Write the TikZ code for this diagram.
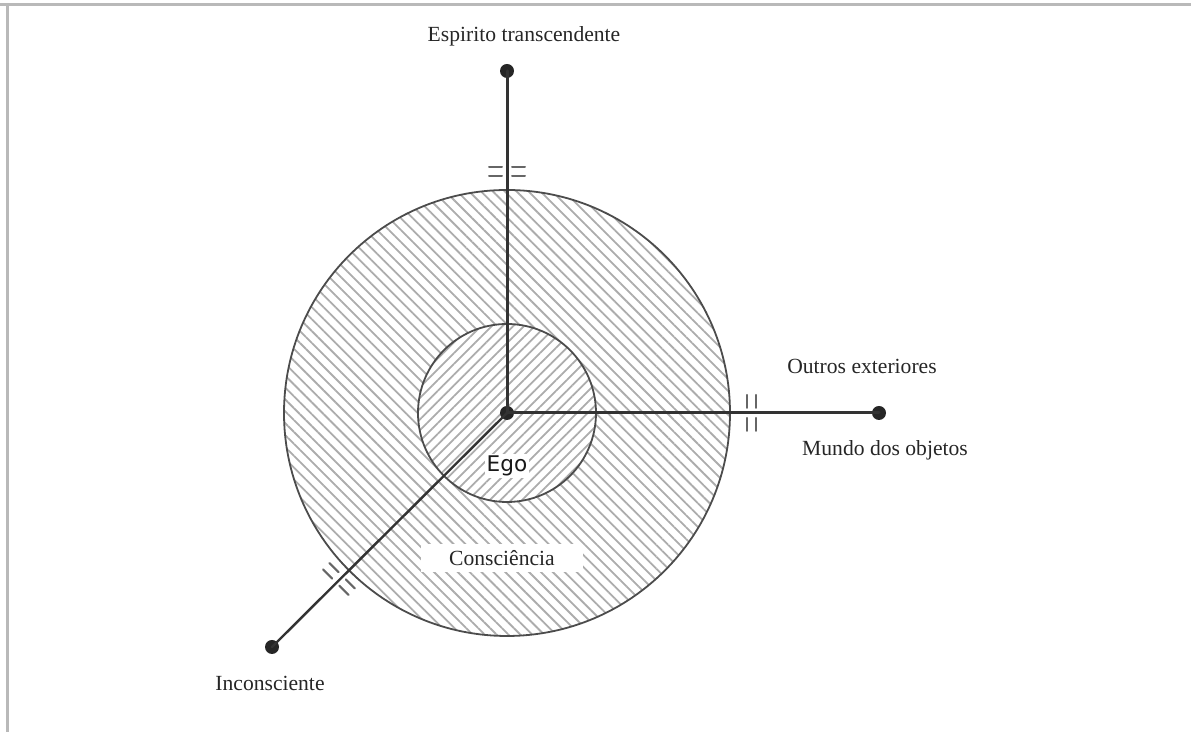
\documentclass[tikz,border=0pt]{standalone}
\usepackage{fontspec}
\setmainfont{Liberation Serif}
\newfontfamily\egofont{DejaVu Sans}
\usetikzlibrary{patterns.meta}
\begin{document}
\begin{tikzpicture}[x=0.5pt,y=0.5pt,line join=round,line cap=round,
	axis/.style={draw=black!80,line width=1.5pt},
	dot/.style={circle,fill=black!85,minimum size=7pt,inner sep=0pt},
	ring/.style={draw=black!70,line width=0.9pt},
	brk/.style={draw=black!60,line width=1pt},
	lbl/.style={font=\fontsize{10.8}{13}\selectfont,text=black!85}]
	\useasboundingbox (0,0) rectangle (1191,732);
	\draw[gray!55,line width=1.5pt] (0,727)--(1191,727) (7,727)--(7,0);
	% circles
	\fill[even odd rule,pattern={Lines[angle=-45,distance=4.2pt,line width=0.9pt]},pattern color=gray!65]
	(507,319) circle (223) (507,319) circle (89);
	\fill[pattern={Lines[angle=45,distance=3.8pt,line width=0.9pt]},pattern color=gray!65]
	(507,319) circle (89);
	\draw[ring] (507,319) circle (223) (507,319) circle (89);
	% points
	\node[dot] (cen) at (507,319) {};
	\node[dot] (top) at (507,661) {};
	\node[dot] (rgt) at (879,319) {};
	\node[dot] (llf) at (272,85) {};
	\draw[axis] (cen.center)--(top.center);
	\draw[axis] (cen.center)--(rgt.center);
	\draw[axis,line width=1.2pt] (cen.center)--(llf.center);
	% break marks
	\foreach \bx/\by/\a in {507/560/90,751/319/0,339/153/225}{
		\begin{scope}[shift={(\bx,\by)},rotate=\a]
		\foreach \s in {-4.5,4.5}{
			\draw[brk] (\s,-18)--(\s,-5);
			\draw[brk] (\s,5)--(\s,18);
		}
		\end{scope}
	}
	% labels
	\node[lbl] (espirito) at (524,696) {Espirito transcendente};
	\node[lbl] (outros) at (862,366) {Outros exteriores};
	\node[lbl] (mundo) at (885,282) {Mundo dos objetos};
	\node[lbl] (incons) at (270,49) {Inconsciente};
	\node[lbl,fill=white,inner xsep=14pt,inner ysep=3pt] (consc) at (502,174) {Consciência};
	\node[font=\egofont\fontsize{10.8}{12}\selectfont,text=black!90,fill=white,inner sep=1pt] (ego) at (507,266) {Ego};
\end{tikzpicture}
\end{document}
